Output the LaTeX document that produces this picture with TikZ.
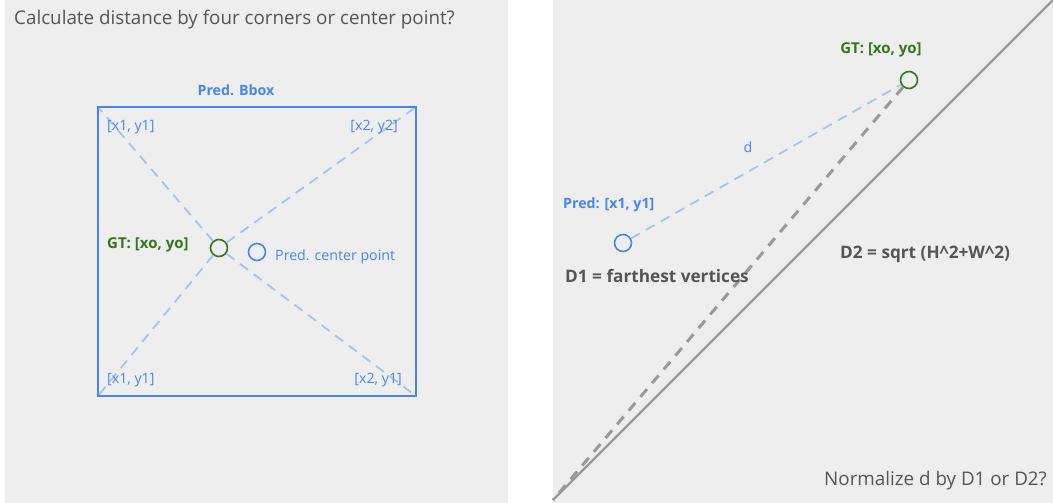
\documentclass[tikz,border=0pt]{standalone}
\usepackage{fontspec}
\setmainfont{Open Sans}
\definecolor{panel}{HTML}{EEEEEE}
\definecolor{bblue}{HTML}{4A86E8}
\definecolor{lblue}{HTML}{A4C2F4}
\definecolor{ggreen}{HTML}{38761D}
\definecolor{tgray}{HTML}{555555}
\definecolor{lgray}{HTML}{999999}
\tikzset{
  lbl/.style={inner sep=0pt, font=\fontsize{14.2}{16}\selectfont},
  bluelbl/.style={lbl, text=bblue},
  greenbold/.style={lbl, text=ggreen, font=\fontsize{15}{17}\selectfont\bfseries},
  bluebold/.style={lbl, text=bblue, font=\fontsize{14.2}{16}\selectfont\bfseries},
  graybold/.style={lbl, text=tgray, font=\fontsize{17.2}{20}\selectfont\bfseries},
  graytext/.style={lbl, text=tgray, font=\fontsize{18.8}{22}\selectfont},
  gtpt/.style={circle, draw=ggreen, line width=1.6pt, minimum size=17pt, inner sep=0pt},
  predpt/.style={circle, draw=bblue, line width=1.6pt, minimum size=17pt, inner sep=0pt},
  diag/.style={draw=lblue, line width=1.8pt, dash pattern=on 10pt off 7pt},
  graydash/.style={draw=lgray, line width=3pt, dash pattern=on 10pt off 8pt},
  grayline/.style={draw=lgray, line width=2.2pt}
}
\begin{document}
\begin{tikzpicture}[x=1pt,y=-1pt]
\useasboundingbox (0,0) rectangle (1053,503);
\fill[white] (0,0) rectangle (1053,503);
\fill[panel] (5,0) rectangle (508,503);
\fill[panel] (553,0) rectangle (1053,503);

% ---------- left panel ----------
\node[graytext, anchor=west] (title) at (14,20) {Calculate distance by four corners or center point?};
\node[bluebold] (bboxlbl) at (236,90) {Pred. Bbox};
\coordinate (tl) at (98,107);
\coordinate (tr) at (416,107);
\coordinate (bl) at (98,396);
\coordinate (br) at (416,396);
\node[gtpt] (gt) at (219,248) {};
\node[predpt] (pc) at (257,252) {};
\draw[diag] (gt) -- (tl);
\draw[diag] (gt) -- (tr);
\draw[diag] (gt) -- (bl);
\draw[diag] (gt) -- (br);
\draw[draw=bblue, line width=2pt] (tl) -- (tr) -- (br) -- (bl) -- cycle;
\node[bluelbl, anchor=west] (ltl) at (107,127) {[x1, y1]};
\node[bluelbl, anchor=east] (ltr) at (398,127) {[x2, y2]};
\node[bluelbl, anchor=west] (lbl) at (107,380) {[x1, y1]};
\node[bluelbl, anchor=east] (lbr) at (402,380) {[x2, y1]};
\node[greenbold, anchor=west] (gtlbl) at (107,245) {GT: [xo, yo]};
\node[bluelbl, anchor=west] (pclbl) at (275,257) {Pred. center point};

% ---------- right panel ----------
\coordinate (lo) at (553,500);
\coordinate (hi) at (1053,0);
\node[gtpt] (gt2) at (909,80) {};
\node[predpt] (pp) at (623,243) {};
\draw[grayline] (lo) -- (hi);
\draw[graydash] (gt2) -- (lo);
\draw[diag] (pp) -- (gt2);
\node[greenbold] (gt2lbl) at (881,50) {GT: [xo, yo]};
\node[bluebold, anchor=west] (pplbl) at (563,205) {Pred: [x1, y1]};
\node[bluelbl] (dlbl) at (748,147) {d};
\node[graybold, anchor=west] (d1) at (565,276) {D1 = farthest vertices};
\node[graybold, anchor=west] (d2) at (840,254) {D2 = sqrt (H\^{}2+W\^{}2)};
\node[graytext, anchor=east] (norm) at (1047,481) {Normalize d by D1 or D2?};
\end{tikzpicture}
\end{document}
